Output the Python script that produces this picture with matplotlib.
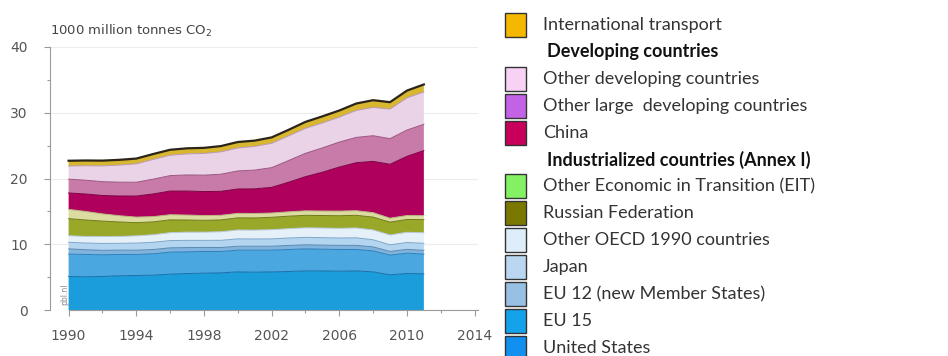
import matplotlib
matplotlib.use("Agg")
import matplotlib.pyplot as plt
from matplotlib.patches import Rectangle
from matplotlib.ticker import MultipleLocator

years = list(range(1990, 2012))

# emissions per group, 1000 million tonnes CO2
united_states = [5.1, 5.05, 5.1, 5.2, 5.25, 5.3, 5.45, 5.55, 5.6, 5.65, 5.8,
                 5.75, 5.8, 5.85, 5.95, 5.95, 5.9, 5.95, 5.8, 5.35, 5.55, 5.5]
eu15 = [3.4, 3.4, 3.3, 3.25, 3.2, 3.25, 3.35, 3.3, 3.3, 3.25, 3.3,
        3.35, 3.3, 3.35, 3.35, 3.3, 3.3, 3.25, 3.2, 3.0, 3.1, 3.0]
eu12 = [0.8, 0.72, 0.68, 0.66, 0.65, 0.65, 0.66, 0.64, 0.62, 0.6, 0.6,
        0.6, 0.6, 0.62, 0.62, 0.62, 0.63, 0.63, 0.6, 0.56, 0.57, 0.57]
japan = [1.0, 1.02, 1.04, 1.03, 1.08, 1.1, 1.1, 1.1, 1.07, 1.1, 1.12,
         1.1, 1.12, 1.13, 1.13, 1.13, 1.12, 1.15, 1.08, 1.0, 1.05, 1.08]
other_oecd = [1.0, 1.0, 1.05, 1.05, 1.1, 1.15, 1.2, 1.25, 1.25, 1.3, 1.35,
              1.35, 1.4, 1.42, 1.45, 1.47, 1.47, 1.5, 1.5, 1.5, 1.55, 1.6]
russia = [2.6, 2.5, 2.35, 2.2, 2.0, 1.95, 1.95, 1.85, 1.8, 1.8, 1.85,
          1.85, 1.88, 1.9, 1.9, 1.9, 1.92, 1.92, 1.95, 1.95, 1.95, 2.0]
other_eit = [1.4, 1.3, 1.1, 0.95, 0.85, 0.8, 0.78, 0.75, 0.72, 0.7, 0.68,
             0.68, 0.65, 0.66, 0.68, 0.68, 0.7, 0.7, 0.68, 0.6, 0.6, 0.6]
china = [2.5, 2.65, 2.8, 3.0, 3.2, 3.45, 3.6, 3.65, 3.65, 3.65, 3.7,
         3.75, 3.9, 4.5, 5.2, 5.9, 6.7, 7.3, 7.8, 8.2, 9.0, 9.9]
other_large = [2.1, 2.1, 2.1, 2.1, 2.1, 2.25, 2.35, 2.45, 2.5, 2.6, 2.75,
               2.85, 3.0, 3.3, 3.55, 3.7, 3.8, 3.85, 3.9, 3.9, 4.0, 4.0]
other_dev = [2.0, 2.2, 2.4, 2.6, 2.8, 3.0, 3.1, 3.2, 3.3, 3.4, 3.5,
             3.6, 3.7, 3.75, 3.8, 3.8, 3.8, 4.1, 4.3, 4.5, 4.9, 4.9]
intl_transport = [0.8, 0.8, 0.8, 0.8, 0.8, 0.82, 0.83, 0.85, 0.85, 0.88, 0.9,
                  0.88, 0.9, 0.92, 0.98, 1.0, 1.0, 1.05, 1.1, 1.05, 1.1, 1.15]

series = [united_states, eu15, eu12, japan, other_oecd, russia, other_eit,
          china, other_large, other_dev, intl_transport]
area_colors = ['#1b9ddb', '#4aa7e0', '#80b4de', '#b4d5f0', '#e6f0f8', '#9aa82a',
               '#dcdca0', '#b0005e', '#c87ba9', '#ead3e6', '#d8b630']
edge_colors = ['#1a6fa8', '#2f7fb8', '#5a88b0', '#7fa6c8', '#b8c8d8', '#6d7a18',
               '#b8b880', '#7a0040', '#9a5580', '#b89ab4', '#2b2418']

# legend rows, top to bottom (None colour = bold header)
legend_labels = ['International transport', 'Developing countries',
                 'Other developing countries', 'Other large  developing countries',
                 'China', 'Industrialized countries (Annex I)',
                 'Other Economic in Transition (EIT)', 'Russian Federation',
                 'Other OECD 1990 countries', 'Japan', 'EU 12 (new Member States)',
                 'EU 15', 'United States']
legend_colors = ['#f5b800', None, '#f8d2f4', '#c462e6', '#c8005c', None,
                 '#84f064', '#7a7800', '#ddeefa', '#bad6f0', '#98c0e4',
                 '#14a2ea', '#1190f0']

W, H = 948, 356
fig = plt.figure(figsize=(W / 100, H / 100), dpi=100)
ax = fig.add_axes([50 / W, (H - 310) / H, (478 - 50) / W, 263 / H])

ax.stackplot(years, *series, colors=area_colors, edgecolor='none', linewidth=0)
run = [0.0] * len(years)
for s, ec in zip(series, edge_colors):
    run = [a + b for a, b in zip(run, s)]
    lw = 1.6 if s is intl_transport else 0.7
    ax.plot(years, run, color=ec, lw=lw)

ax.set_xlim(1988.9, 2014.2)
ax.set_ylim(0, 40)
ax.set_xticks([1990, 1994, 1998, 2002, 2006, 2010, 2014])
ax.xaxis.set_minor_locator(MultipleLocator(2))
ax.set_yticks([0, 10, 20, 30, 40])
ax.yaxis.set_minor_locator(MultipleLocator(5))
ax.set_axisbelow(True)
ax.yaxis.grid(True, color='#ececec', lw=0.8)

for side in ['top', 'right']:
    ax.spines[side].set_visible(False)
ax.spines['left'].set_color('#9a9a9a')
ax.spines['bottom'].set_color('#9a9a9a')
ax.spines['bottom'].set_bounds(1990, 2014.2)
ax.tick_params(axis='both', colors='#9a9a9a', labelcolor='#555555',
               labelsize=10, length=4, width=0.8)
ax.tick_params(axis='both', which='minor', colors='#9a9a9a', length=2.5, width=0.8)
ax.tick_params(axis='x', pad=10)
ax.tick_params(axis='y', pad=12)

fig.text(50 / W, 1 - 31 / H, '1000 million tonnes CO$_2$', fontsize=9.5,
         color='#444444', va='center', ha='left')
ax.text(1989.8, 0.8, 'pbl.nl', rotation=90, fontsize=5.5, color='#888888',
        ha='center', va='bottom')

# hand-drawn legend on the right
for i, (lab, col) in enumerate(zip(legend_labels, legend_colors)):
    yc = 25 + i * 26.9
    if col is None:
        fig.text(547 / W, 1 - yc / H, lab, fontsize=13, fontweight='bold',
                 family='Lato', color='#111111', va='center', ha='left')
    else:
        fig.patches.append(Rectangle((505 / W, 1 - (yc + 12) / H), 21 / W, 24 / H,
                                     transform=fig.transFigure, facecolor=col,
                                     edgecolor='#333333', lw=1.0))
        fig.text(543 / W, 1 - yc / H, lab, fontsize=13, family='Lato',
                 color='#333333', va='center', ha='left')

fig.savefig('out.png', dpi=100)
